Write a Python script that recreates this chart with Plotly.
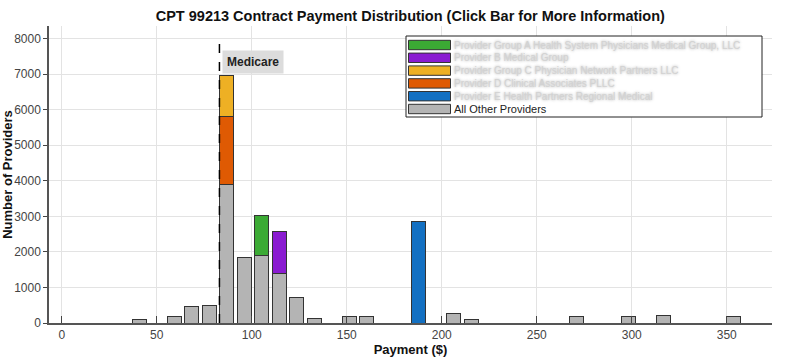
import plotly.graph_objects as go

# ---------------- data ----------------
payment_bins = [40.8, 59.2, 68.4, 77.6, 86.8, 96.0, 105.2, 114.4, 123.6, 132.8,
                151.2, 160.4, 206.4, 215.6, 270.8, 298.4, 316.8, 353.6]
other_counts = [90, 170, 470, 490, 3900, 1840, 1900, 1400, 720, 120,
                190, 170, 260, 95, 190, 190, 210, 170]

# highlighted providers (stack order: orange, yellow, green, purple, blue)
prov_orange_x, prov_orange_y = [86.8], [1900]
prov_yellow_x, prov_yellow_y = [86.8], [1170]
prov_green_x, prov_green_y = [105.2], [1130]
prov_purple_x, prov_purple_y = [114.4], [1180]
prov_blue_x, prov_blue_y = [188.0], [2860]

provider_names = [
    "Provider Group A Health System Physicians Medical Group, LLC",
    "Provider B Medical Group",
    "Provider Group C Physician Network Partners LLC",
    "Provider D Clinical Associates PLLC",
    "Provider E Health Partners Regional Medical",
    "All Other Providers",
]
provider_colors = ["#3BAA34", "#8A1BD1", "#EEB024", "#DF5A03", "#1370C2", "#B4B4B4"]

medicare_rate = 83.0
medicare_line_top = 7900

x_ticks = [0, 50, 100, 150, 200, 250, 300, 350]
y_ticks = [0, 1000, 2000, 3000, 4000, 5000, 6000, 7000, 8000]

# ---------------- figure ----------------
W, H = 803, 363
L, R, T, B = 49, 31, 26, 40
PW, PH = W - L - R, H - T - B
FONT = "Liberation Sans, Arial, sans-serif"
BAR_W = 7.4
OUTLINE = dict(color="#333333", width=1)

fig = go.Figure()

def add_bar(x, y, color, name):
    fig.add_trace(go.Bar(x=x, y=y, name=name, width=BAR_W,
                         marker=dict(color=color, line=OUTLINE),
                         showlegend=False))

add_bar(payment_bins, other_counts, provider_colors[5], provider_names[5])
add_bar(prov_orange_x, prov_orange_y, provider_colors[3], provider_names[3])
add_bar(prov_yellow_x, prov_yellow_y, provider_colors[2], provider_names[2])
add_bar(prov_green_x, prov_green_y, provider_colors[0], provider_names[0])
add_bar(prov_purple_x, prov_purple_y, provider_colors[1], provider_names[1])
add_bar(prov_blue_x, prov_blue_y, provider_colors[4], provider_names[4])

# Medicare line
fig.add_trace(go.Scatter(x=[medicare_rate, medicare_rate], y=[0, medicare_line_top],
                         mode="lines", line=dict(color="black", width=1.5, dash="dash"),
                         showlegend=False, hoverinfo="skip"))
fig.add_annotation(x=medicare_rate, y=7330, xref="x", yref="y", text="<b>Medicare</b>",
                   showarrow=False, xanchor="left", yanchor="middle", xshift=3,
                   bgcolor="#DCDCDC", borderpad=4,
                   font=dict(family=FONT, size=12, color="#222222"))

# custom legend (pixel layout converted to paper coords)
def px_x(px):
    return (px - L) / PW

def px_y(py):
    return (H - B - py) / PH

shapes = [dict(type="rect", xref="paper", yref="paper",
               x0=px_x(406), x1=px_x(762), y0=px_y(117), y1=px_y(36),
               line=dict(color="#222222", width=1), fillcolor="white", layer="above")]
row_centers = [45, 57.8, 70.6, 83.4, 96.2, 109.0]
for i, (nm, col) in enumerate(zip(provider_names, provider_colors)):
    cy = row_centers[i]
    shapes.append(dict(type="rect", xref="paper", yref="paper",
                       x0=px_x(408.5), x1=px_x(450.5), y0=px_y(cy + 4.7), y1=px_y(cy - 4.7),
                       line=dict(color="#333333", width=1), fillcolor=col, layer="above"))
    if i < 5:
        f = dict(family=FONT, size=10, color="#D2D2D2", shadow="0px 0px 3px #a0a0a0")
    else:
        f = dict(family=FONT, size=11, color="#222222")
    fig.add_annotation(x=px_x(452.5), y=px_y(cy), xref="paper", yref="paper", text=nm,
                       showarrow=False, xanchor="left", yanchor="middle", font=f,
                       borderpad=0)

fig.update_layout(
    width=W, height=H,
    margin=dict(l=L, r=R, t=T, b=B, autoexpand=False),
    barmode="stack",
    paper_bgcolor="white", plot_bgcolor="white",
    font=dict(family=FONT, size=12, color="#444444"),
    title=dict(text="<b>CPT 99213 Contract Payment Distribution (Click Bar for More Information)</b>",
               x=0.511, xanchor="center", y=1 - 16 / H, yanchor="middle",
               font=dict(family=FONT, size=14.5, color="#111111")),
    shapes=shapes,
    showlegend=False,
)
fig.update_xaxes(range=[-6.7, 373.8], tickvals=x_ticks, ticks="inside", ticklen=7,
                 tickcolor="#444444", showline=True, linecolor="#555555", linewidth=1.5,
                 showgrid=True, gridcolor="#E3E3E3", gridwidth=1, zeroline=False,
                 automargin=False,
                 tickfont=dict(size=12, color="#444444"),
                 title=dict(text="<b>Payment ($)</b>", standoff=1,
                            font=dict(size=13, color="#111111")))
fig.update_yaxes(range=[0, 8354], tickvals=y_ticks, ticks="outside", ticklen=4,
                 tickcolor="#444444", showline=True, linecolor="#555555", linewidth=1.5,
                 showgrid=True, gridcolor="#E3E3E3", gridwidth=1, zeroline=False,
                 automargin=False,
                 tickfont=dict(size=12, color="#444444"),
                 title=dict(text="<b>Number of Providers</b>", standoff=4,
                            font=dict(size=13, color="#111111")))

fig.write_html("out.html", config={"displayModeBar": False},
               post_script="document.body.style.margin='0px';")
